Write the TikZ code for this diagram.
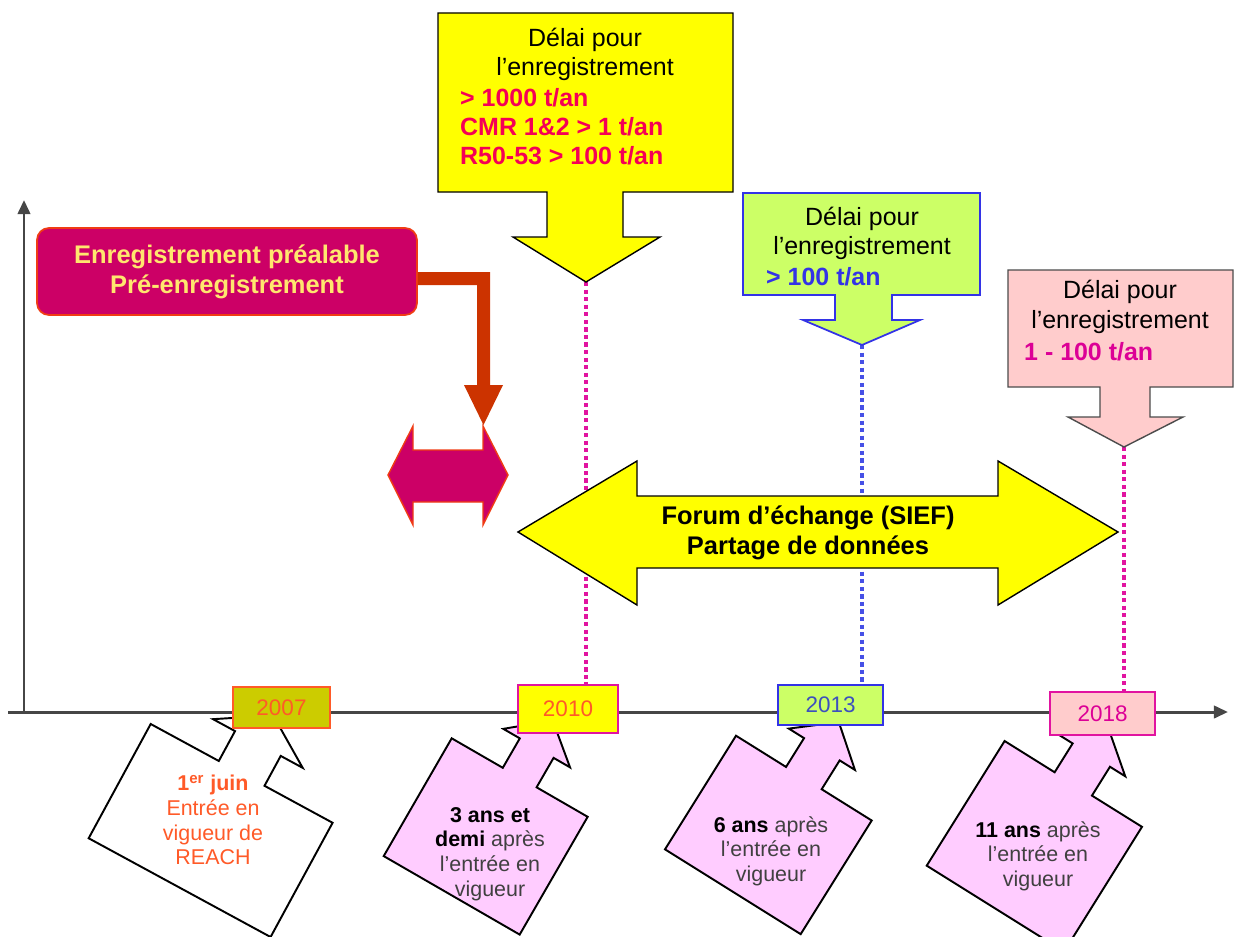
\documentclass[tikz,border=0pt]{standalone}
\usepackage{fontspec}
\setmainfont{Liberation Sans}
\usetikzlibrary{arrows.meta}
\definecolor{magbox}{RGB}{204,0,102}
\definecolor{magborder}{RGB}{240,60,20}
\definecolor{boxtext}{RGB}{255,230,110}
\definecolor{elbow}{RGB}{204,51,0}
\definecolor{yel}{RGB}{255,255,0}
\definecolor{grn}{RGB}{204,255,102}
\definecolor{pinkc}{RGB}{255,204,204}
\definecolor{lilac}{RGB}{255,204,255}
\definecolor{redtxt}{RGB}{245,0,85}
\definecolor{bluetxt}{RGB}{51,51,230}
\definecolor{magtxt}{RGB}{220,0,150}
\definecolor{dotmag}{RGB}{225,20,160}
\definecolor{dotblue}{RGB}{70,80,230}
\definecolor{olive}{RGB}{204,204,0}
\definecolor{orangetxt}{RGB}{255,90,40}
\definecolor{blueyear}{RGB}{60,80,190}
\definecolor{axisgray}{RGB}{70,70,70}
\newcommand\bcallout[9]{%
  \begin{scope}[shift={(#1,#2)},rotate=#3]
    \draw[fill=#9,draw=black,line width=1.1pt,line join=miter]
      (0,0) -- ({#4/2-#6/2},0) -- ({#4/2-#6/2},-34) -- ({#4/2-#7/2},-34)
      -- ({#4/2},-66) -- ({#4/2+#7/2},-34) -- ({#4/2+#6/2},-34)
      -- ({#4/2+#6/2},0) -- (#4,0) -- (#4,#5) -- (0,#5) -- cycle;
  \end{scope}}
\tikzset{
  axisline/.style={draw=axisgray,line width=1.7pt,-{Triangle[length=8pt,width=7pt]}},
  bigbold/.style={font=\fontsize{14.5pt}{17pt}\selectfont\bfseries,align=center},
  calltxt/.style={font=\fontsize{14.2pt}{16.4pt}\selectfont,align=center},
  callred/.style={font=\fontsize{14.2pt}{16.6pt}\selectfont\bfseries,align=left,anchor=west},
  bottxt/.style={font=\fontsize{12.2pt}{14pt}\selectfont,align=center,text=black!75},
  yearbox/.style={font=\fontsize{12.8pt}{14pt}\selectfont,line width=1.1pt,inner sep=0pt},
  dotm/.style={draw=dotmag,line width=2.8pt,dash pattern=on 2.4pt off 1.9pt},
  dotb/.style={draw=dotblue,line width=2.8pt,dash pattern=on 2.4pt off 1.9pt},
}
\begin{document}
\begin{tikzpicture}[x=0.02cm,y=-0.02cm]
\useasboundingbox (0,0) rectangle (1236,936);
% axes
\coordinate (origin) at (24,712);
\coordinate (ytop) at (24,200);
\coordinate (xleft) at (8,712);
\coordinate (xright) at (1228,712);
\draw[axisline] (origin) -- (ytop);
\draw[axisline] (xleft) -- (xright);
% bottom callouts
\bcallout{150.7}{724}{-28.5}{207}{130}{52}{102}{}{white}
\bcallout{451.7}{738.3}{-30}{157}{136}{39}{77}{}{lilac}
\bcallout{736}{735.7}{-32}{160}{134}{42}{78}{}{lilac}
\bcallout{1004.6}{741}{-32}{162}{147}{44}{80}{}{lilac}
\node[bottxt,text=orangetxt] (t2007) at (213,820) {{\bfseries 1\textsuperscript{er} juin}\\Entrée en\\vigueur de\\REACH};
\node[bottxt] (t2010) at (490,854) {{\bfseries\color{black} 3 ans et}\\{\bfseries\color{black} demi} après\\l’entrée en\\vigueur};
\node[bottxt] (t2013) at (771,851) {{\bfseries\color{black} 6 ans} après\\l’entrée en\\vigueur};
\node[bottxt] (t2018) at (1038,856) {{\bfseries\color{black} 11 ans} après\\l’entrée en\\vigueur};
% year boxes
\node[yearbox,fill=olive,draw=orangetxt,text=orangetxt,minimum width=1.94cm,minimum height=0.82cm] (y2007) at (281.5,707.5) {2007};
\node[yearbox,fill=yel,draw=dotmag,text=orangetxt,minimum width=2.0cm,minimum height=0.96cm] (y2010) at (568,709) {2010};
\node[yearbox,fill=grn,draw=bluetxt,text=blueyear,minimum width=2.1cm,minimum height=0.8cm] (y2013) at (830.5,705) {2013};
\node[yearbox,fill=pinkc,draw=dotmag,text=magtxt,minimum width=2.1cm,minimum height=0.86cm] (y2018) at (1102.5,713.5) {2018};
% tips of the top callouts
\coordinate (tipA) at (586,282);
\coordinate (tipB) at (862,345);
\coordinate (tipC) at (1124,447);
\draw[dotm] (tipA) -- (tipA |- y2010.north);
\draw[dotb] (tipB) -- (tipB |- y2013.north);
\draw[dotm] (tipC) -- (tipC |- y2018.north);
% pre-registration box
\node[fill=magbox,draw=magborder,line width=1pt,rounded corners=0.24cm,minimum width=7.6cm,minimum height=1.74cm,bigbold,text=boxtext] (mbox) at (227,271.5) {Enregistrement préalable\\Pré-enregistrement};
% elbow arrow
\fill[elbow] (mbox.east |- 0,272) -- (490,272) -- (490,385) -- (503,385) -- (483.5,425) -- (464,385) -- (477,385) -- (477,285) -- (mbox.east |- 0,285) -- cycle;
% magenta double arrow
\draw[fill=magbox,draw=magborder,line width=0.8pt,line join=miter] (388,475) -- (413,426) -- (413,450) -- (483,450) -- (483,426) -- (508,475) -- (483,525) -- (483,502) -- (413,502) -- (413,525) -- cycle;
% SIEF arrow
\draw[fill=yel,draw=black,line width=0.8pt,line join=miter] (518,532) -- (637,461) -- (637,496) -- (998,496) -- (998,461) -- (1118,532) -- (998,605) -- (998,568) -- (637,568) -- (637,605) -- cycle;
\node[bigbold] (sief) at (808,533) {Forum d’échange (SIEF)\\Partage de données};
% top callouts
\draw[fill=yel,draw=black,line width=0.8pt,line join=miter] (438,13) -- (733,13) -- (733,192) -- (623,192) -- (623,237) -- (660,237) -- (tipA) -- (513,237) -- (547,237) -- (547,192) -- (438,192) -- cycle;
\node[calltxt] (ya) at (585,54) {Délai pour\\l’enregistrement};
\node[callred,text=redtxt] (yb) at (454,127) {> 1000 t/an\\CMR 1\&2 > 1 t/an\\R50-53 > 100 t/an};
\draw[fill=grn,draw=bluetxt,line width=1pt,line join=miter] (743,193) -- (980,193) -- (980,295) -- (892,295) -- (892,320) -- (920,320) -- (tipB) -- (803,320) -- (835,320) -- (835,295) -- (743,295) -- cycle;
\node[calltxt] (ga) at (862,233) {Délai pour\\l’enregistrement};
\node[callred,text=bluetxt] (gb) at (760,277) {> 100 t/an};
\draw[fill=pinkc,draw=black!70,line width=0.8pt,line join=miter] (1008,270) -- (1233,270) -- (1233,387) -- (1150,387) -- (1150,417) -- (1183,417) -- (tipC) -- (1068,417) -- (1100,417) -- (1100,387) -- (1008,387) -- cycle;
\node[calltxt,font=\fontsize{14.2pt}{17pt}\selectfont] (pa) at (1120,307) {Délai pour\\l’enregistrement};
\node[callred,text=magtxt] (pb) at (1018,352) {1 - 100 t/an};
\end{tikzpicture}
\end{document}
